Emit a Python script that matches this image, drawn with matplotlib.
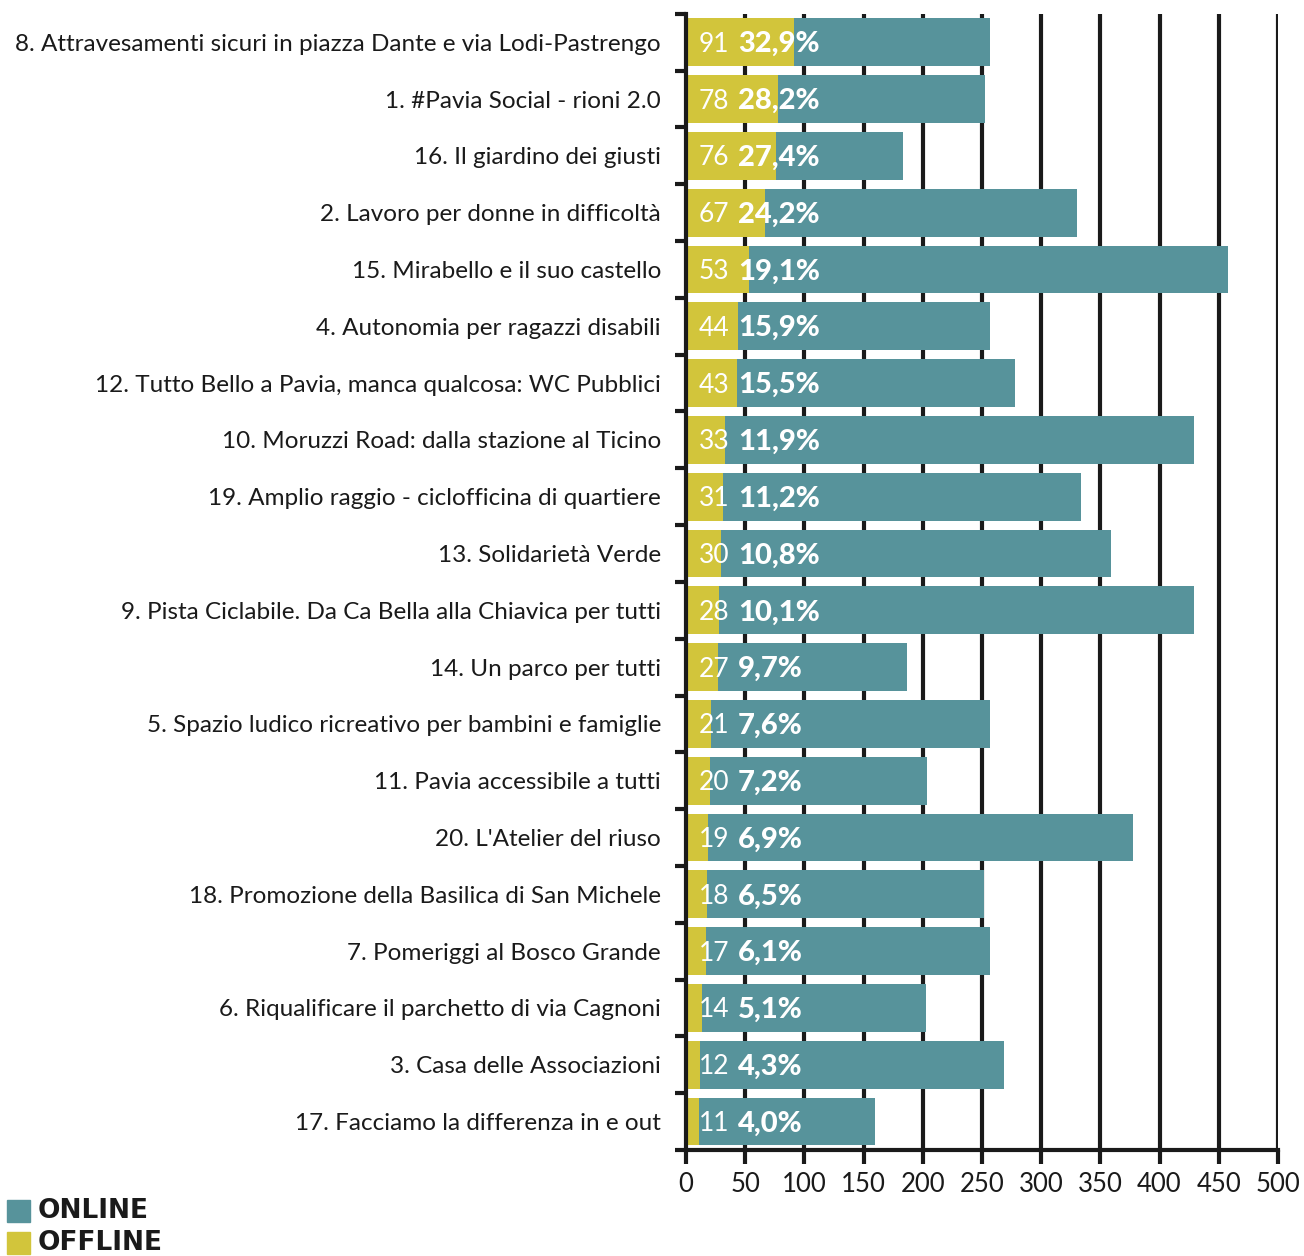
import numpy as np
import matplotlib.pyplot as plt
from matplotlib.patches import Rectangle
from matplotlib.transforms import offset_copy

labels = [
    "8. Attravesamenti sicuri in piazza Dante e via Lodi-Pastrengo",
    "1. #Pavia Social - rioni 2.0",
    "16. Il giardino dei giusti",
    "2. Lavoro per donne in difficoltà",
    "15. Mirabello e il suo castello",
    "4. Autonomia per ragazzi disabili",
    "12. Tutto Bello a Pavia, manca qualcosa: WC Pubblici",
    "10. Moruzzi Road: dalla stazione al Ticino",
    "19. Amplio raggio - ciclofficina di quartiere",
    "13. Solidarietà Verde",
    "9. Pista Ciclabile. Da Ca Bella alla Chiavica per tutti",
    "14. Un parco per tutti",
    "5. Spazio ludico ricreativo per bambini e famiglie",
    "11. Pavia accessibile a tutti",
    "20. L'Atelier del riuso",
    "18. Promozione della Basilica di San Michele",
    "7. Pomeriggi al Bosco Grande",
    "6. Riqualificare il parchetto di via Cagnoni",
    "3. Casa delle Associazioni",
    "17. Facciamo la differenza in e out",
]
offline = [91, 78, 76, 67, 53, 44, 43, 33, 31, 30, 28, 27, 21, 20, 19, 18, 17, 14, 12, 11]
online = [166, 175, 107, 263, 405, 213, 235, 396, 303, 329, 401, 160, 236, 184, 359, 234, 240, 189, 257, 149]
pct = ["32,9%", "28,2%", "27,4%", "24,2%", "19,1%", "15,9%", "15,5%", "11,9%", "11,2%", "10,8%",
       "10,1%", "9,7%", "7,6%", "7,2%", "6,9%", "6,5%", "6,1%", "5,1%", "4,3%", "4,0%"]

c_on = "#57939B"
c_off = "#D2C53B"
ink = "#1a1a1a"

plt.rcParams['font.family'] = ['Lato', 'DejaVu Sans']

fig = plt.figure(figsize=(13.04, 12.56), dpi=100)
ax = fig.add_axes([0.526, 0.0844, 0.454, 0.9046])

y = np.arange(len(labels))
ax.set_xlim(0, 500)
ax.set_ylim(len(labels) - 0.5, -0.5)

for gx in range(50, 501, 50):
    ax.axvline(gx, color=ink, lw=3, zorder=0)

ax.barh(y, offline, height=0.84, color=c_off, zorder=2)
ax.barh(y, online, left=offline, height=0.84, color=c_on, zorder=2)

t1 = offset_copy(ax.transData, fig=fig, x=13, y=-2, units='dots')
t2 = offset_copy(ax.transData, fig=fig, x=52, y=-2, units='dots')
for i in y:
    ax.text(0, i, str(offline[i]), transform=t1, color="white", fontsize=19,
            va="center", ha="left", zorder=3)
    ax.text(0, i, pct[i], transform=t2, color="white", fontsize=21, fontweight="black",
            va="center", ha="left", zorder=3)

ax.set_yticks(y)
ax.set_yticklabels(labels, fontsize=17.5, color=ink)
ax.set_yticks(np.arange(len(labels) + 1) - 0.5, minor=True)
ax.tick_params(axis="y", which="major", length=0, pad=18)
ax.tick_params(axis="y", which="minor", length=8, width=3, color=ink)

ax.set_xticks(range(0, 501, 50))
ax.tick_params(axis="x", length=10, width=3, color=ink, labelsize=18.5, labelcolor=ink, pad=6)

for s in ["top", "right"]:
    ax.spines[s].set_visible(False)
for s in ["left", "bottom"]:
    ax.spines[s].set_linewidth(3)
    ax.spines[s].set_color(ink)

# legend drawn by hand in figure pixels (bottom-left corner)
H = 1256
for name, col, top in [("ONLINE", c_on, 1200), ("OFFLINE", c_off, 1232)]:
    fig.patches.append(Rectangle((7, H - top - 22), 23, 22, color=col,
                                 transform=None, figure=fig))
    fig.text(38 / 1304, (H - top - 11) / H, name, fontsize=19, fontweight="bold",
             family="DejaVu Sans", color=ink, va="center", ha="left")

fig.savefig("out.png", dpi=100)
